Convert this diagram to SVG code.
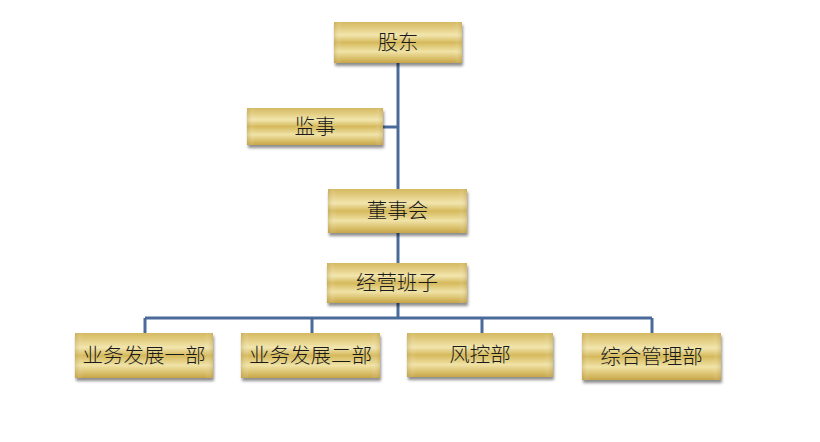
<svg xmlns="http://www.w3.org/2000/svg" width="820" height="442" viewBox="0 0 820 442">
<defs>
<linearGradient id="gold" x1="0" y1="0" x2="0" y2="1">
<stop offset="0" stop-color="#d4b962"/>
<stop offset="0.15" stop-color="#e2cc80"/>
<stop offset="0.32" stop-color="#f2e6ae"/>
<stop offset="0.5" stop-color="#d5b95c"/>
<stop offset="0.72" stop-color="#f0e3a6"/>
<stop offset="0.88" stop-color="#dac06c"/>
<stop offset="1" stop-color="#c6a548"/>
</linearGradient>
<linearGradient id="side" x1="0" y1="0" x2="1" y2="0">
<stop offset="0" stop-color="#b89840" stop-opacity="0.35"/>
<stop offset="0.06" stop-color="#ffffff" stop-opacity="0"/>
<stop offset="0.94" stop-color="#ffffff" stop-opacity="0"/>
<stop offset="1" stop-color="#b89840" stop-opacity="0.35"/>
</linearGradient>
<filter id="sh" x="-10%" y="-10%" width="120%" height="140%">
<feGaussianBlur in="SourceAlpha" stdDeviation="1.5"/>
<feOffset dx="1" dy="2.5"/>
<feComponentTransfer><feFuncA type="linear" slope="0.45"/></feComponentTransfer>
<feMerge><feMergeNode/><feMergeNode in="SourceGraphic"/></feMerge>
</filter>
</defs>
<style>
.box{fill:url(#gold);filter:url(#sh);}
.edge{fill:url(#side);}
.t{font-family:"Liberation Serif","Noto Sans CJK SC",serif;font-size:20.5px;font-weight:300;fill:#1a1a1a;text-anchor:middle;dominant-baseline:central;}
.c{fill:none;stroke:#4a6b9a;stroke-width:3;}
</style>
<rect width="820" height="442" fill="#ffffff"/>
<g id="connectors">
<path class="c" d="M398 63 V263"/>
<path class="c" d="M383 127 H398"/>
<path class="c" d="M398 303 V318"/>
<path class="c" d="M145 318 H652"/>
<path class="c" d="M145 318 V333 M312 318 V333 M482 318 V333 M652 318 V333"/>
</g>
<g id="n-gudong">
<rect class="box" x="334" y="22" width="128" height="41"/>
<rect class="edge" x="334" y="22" width="128" height="41"/>
<text class="t" x="398" y="42.5">股东</text>
</g>
<g id="n-jianshi">
<rect class="box" x="247" y="108" width="136" height="37"/>
<rect class="edge" x="247" y="108" width="136" height="37"/>
<text class="t" x="315" y="126.5">监事</text>
</g>
<g id="n-dongshihui">
<rect class="box" x="328" y="189" width="139" height="44"/>
<rect class="edge" x="328" y="189" width="139" height="44"/>
<text class="t" x="397.5" y="211">董事会</text>
</g>
<g id="n-jingying">
<rect class="box" x="327" y="263" width="140" height="40"/>
<rect class="edge" x="327" y="263" width="140" height="40"/>
<text class="t" x="397" y="283">经营班子</text>
</g>
<g id="n-yewu1">
<rect class="box" x="75" y="333" width="138" height="45"/>
<rect class="edge" x="75" y="333" width="138" height="45"/>
<text class="t" x="144" y="355.5">业务发展一部</text>
</g>
<g id="n-yewu2">
<rect class="box" x="241" y="333" width="139" height="45"/>
<rect class="edge" x="241" y="333" width="139" height="45"/>
<text class="t" x="310.5" y="355.5">业务发展二部</text>
</g>
<g id="n-fengkong">
<rect class="box" x="407" y="333" width="146" height="44"/>
<rect class="edge" x="407" y="333" width="146" height="44"/>
<text class="t" x="480" y="355">风控部</text>
</g>
<g id="n-zonghe">
<rect class="box" x="582" y="333" width="139" height="47"/>
<rect class="edge" x="582" y="333" width="139" height="47"/>
<text class="t" x="651.5" y="356.5">综合管理部</text>
</g>
</svg>
